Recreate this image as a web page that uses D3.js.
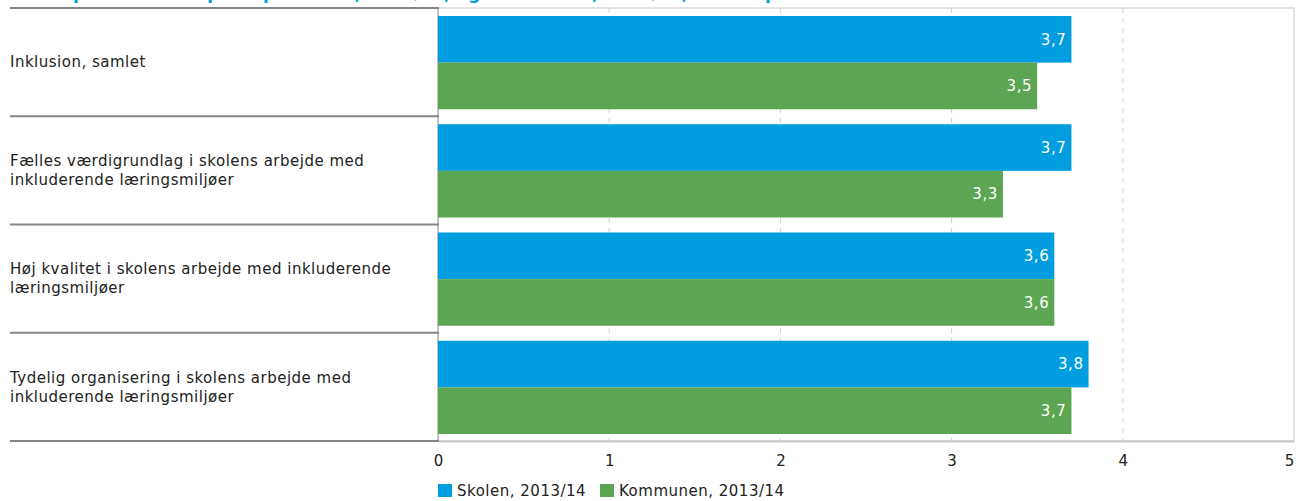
<!DOCTYPE html>
<html>
<head>
<meta charset="utf-8">
<script src="https://cdn.jsdelivr.net/npm/d3@7"></script>
<style>
  body { margin: 0; background: #fff; }
  svg text { font-family: 'DejaVu Sans', Verdana, sans-serif; }
</style>
</head>
<body>
<div class="canvas"></div>
<script>
// data
const categories = [
    ['Inklusion, samlet'],
    ['Fælles værdigrundlag i skolens arbejde med', 'inkluderende læringsmiljøer'],
    ['Høj kvalitet i skolens arbejde med inkluderende', 'læringsmiljøer'],
    ['Tydelig organisering i skolens arbejde med', 'inkluderende læringsmiljøer']
];
const skolen = [3.7, 3.7, 3.6, 3.8];
const kommunen = [3.5, 3.3, 3.6, 3.7];
const seriesNames = ['Skolen, 2013/14', 'Kommunen, 2013/14'];
const ticks = [0, 1, 2, 3, 4, 5];
const title = 'Status på inklusion opdelt på skolen, 2013/14, og kommunen, 2013/14, fordelt på temaer';

const colors = ['#009ee0', '#5ca552'];

const svg = d3.select('.canvas')
    .append('svg')
        .attr('width', 1296)
        .attr('height', 501);

const margin = {top: 8, right: 2, bottom: 60, left: 438};
const graphWidth = 1296 - margin.left - margin.right;
const graphHeight = 501 - margin.top - margin.bottom;

// title, mostly cut off at the top (as in the original)
svg.append('text')
    .attr('x', 5)
    .attr('y', -1)
    .attr('fill', '#009ee0')
    .attr('font-weight', 'bold')
    .attr('font-size', 17)
    .text(title);

const graph = svg.append('g')
    .attr('transform', `translate(${margin.left}, ${margin.top})`);

const x = d3.scaleLinear()
    .domain([0, 5])
    .range([0, graphWidth]);

const y = d3.scaleBand()
    .domain(d3.range(categories.length))
    .range([0, graphHeight]);

const inner = d3.scaleBand()
    .domain([0, 1])
    .range([8, y.bandwidth() - 7]);

// frame of plot area
graph.append('rect')
    .attr('width', graphWidth)
    .attr('height', graphHeight)
    .attr('fill', 'none')
    .attr('stroke', '#c8c8c8');

// dashed grid
graph.selectAll('.grid')
    .data(ticks.slice(1, -1))
    .enter()
    .append('line')
        .attr('x1', d => x(d)).attr('x2', d => x(d))
        .attr('y1', 0).attr('y2', graphHeight)
        .attr('stroke', '#d0d0d0')
        .attr('stroke-dasharray', '5,5');

// label column lines
svg.selectAll('.sep')
    .data(d3.range(categories.length + 1))
    .enter()
    .append('line')
        .attr('x1', 10).attr('x2', margin.left + 1)
        .attr('y1', d => margin.top + (d < categories.length ? y(d) : graphHeight))
        .attr('y2', d => margin.top + (d < categories.length ? y(d) : graphHeight))
        .attr('stroke', '#858585')
        .attr('stroke-width', 2);

graph.append('line')
    .attr('x1', 0).attr('x2', 0)
    .attr('y1', 0).attr('y2', graphHeight)
    .attr('stroke', '#a0a0a0');

// bars
const series = [skolen, kommunen];
series.forEach((vals, s) => {
    graph.selectAll('.bar' + s)
        .data(vals)
        .enter()
        .append('rect')
            .attr('x', 0)
            .attr('y', (d, i) => y(i) + inner(s))
            .attr('width', d => x(d))
            .attr('height', inner.bandwidth())
            .attr('fill', colors[s]);

    graph.selectAll('.val' + s)
        .data(vals)
        .enter()
        .append('text')
            .attr('x', d => x(d) - 5)
            .attr('y', (d, i) => y(i) + inner(s) + inner.bandwidth() / 2)
            .attr('dy', '0.35em')
            .attr('text-anchor', 'end')
            .attr('fill', '#fff')
            .attr('font-size', 15)
            .attr('letter-spacing', 0.6)
            .text(d => d3.format('.1f')(d).replace('.', ','));
});

// category labels
const labels = svg.selectAll('.cat')
    .data(categories)
    .enter()
    .append('text')
        .attr('x', 10)
        .attr('y', (d, i) => margin.top + y(i) + y.bandwidth() / 2 - (d.length - 1) * 9.5)
        .attr('font-size', 15)
        .attr('letter-spacing', 0.5)
        .attr('fill', '#222');

labels.selectAll('tspan')
    .data(d => d)
    .enter()
    .append('tspan')
        .attr('x', 10)
        .attr('dy', (d, i) => i === 0 ? '0.35em' : 19)
        .text(d => d);

// x axis
const xAxis = d3.axisBottom(x)
    .tickValues(ticks)
    .tickSize(0)
    .tickPadding(14)
    .tickFormat(d3.format('d'));

const xAxisGroup = graph.append('g')
    .attr('transform', `translate(0, ${graphHeight})`)
    .call(xAxis);

xAxisGroup.select('.domain').attr('stroke', '#c8c8c8').attr('stroke-width', 2);
xAxisGroup.selectAll('text')
    .attr('font-size', 15)
    .attr('font-family', "'DejaVu Sans', Verdana, sans-serif")
    .attr('fill', '#222')
    .attr('dx', d => d === 5 ? -5 : 0);

// legend
const legend = svg.append('g')
    .attr('transform', 'translate(438, 484)');

const legendX = [0, 162];
seriesNames.forEach((name, i) => {
    legend.append('rect')
        .attr('x', legendX[i])
        .attr('y', 0)
        .attr('width', 14)
        .attr('height', 13)
        .attr('fill', colors[i]);
    legend.append('text')
        .attr('x', legendX[i] + 19)
        .attr('y', 7)
        .attr('dy', '0.35em')
        .attr('font-size', 15)
        .attr('letter-spacing', 0.5)
        .attr('fill', '#222')
        .text(name);
});
</script>
</body>
</html>
